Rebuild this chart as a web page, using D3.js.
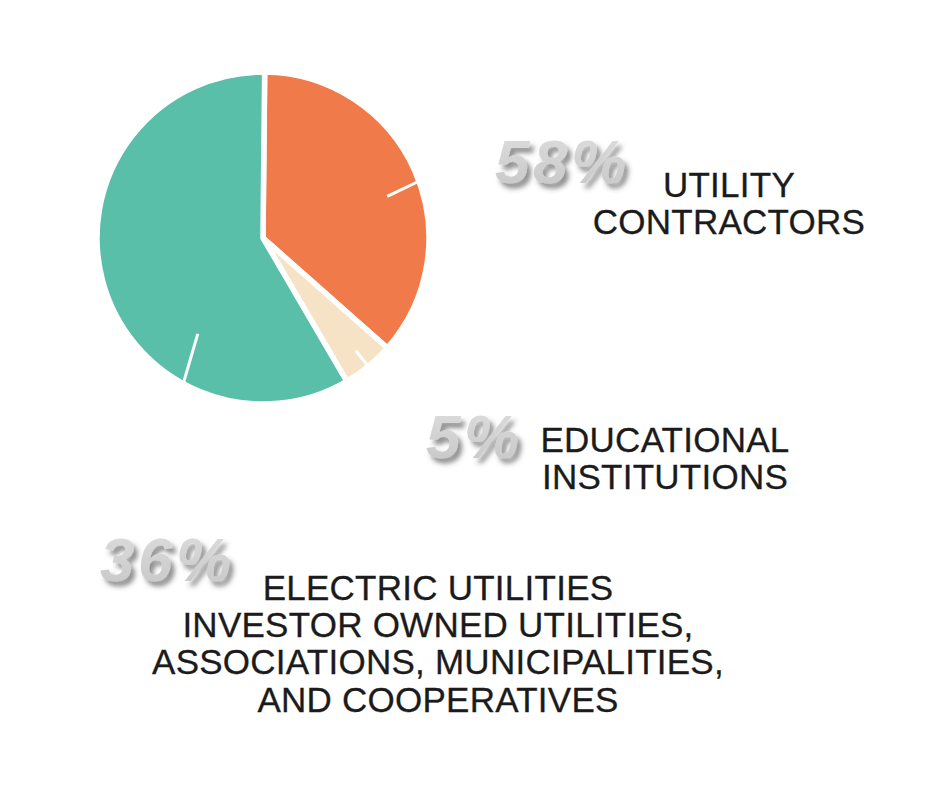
<!DOCTYPE html>
<html>
<head>
<meta charset="utf-8">
<script src="https://cdn.jsdelivr.net/npm/d3@7"></script>
<style>
  html, body { margin: 0; padding: 0; background: #ffffff; }
  svg { display: block; }
</style>
</head>
<body>
<svg id="chart" width="942" height="802"></svg>
<script>
// ---- data ----
const categories = ["Electric Utilities", "Educational Institutions", "Utility Contractors"];
const values = [36, 5, 58];
const colors = ["#f17a4b", "#f6e3c5", "#5abfa9"];
const percentLabels = ["36%", "5%", "58%"];
const labelLines = [
  ["ELECTRIC UTILITIES", "INVESTOR OWNED UTILITIES,", "ASSOCIATIONS, MUNICIPALITIES,", "AND COOPERATIVES"],
  ["EDUCATIONAL", "INSTITUTIONS"],
  ["UTILITY", "CONTRACTORS"]
];

// ---- layout config ----
const cx = 263, cy = 238, R = 166;
const tickCfg = [ // fraction within slice, inner/outer radius, tilt (deg)
  { f: 0.53, r0: 131, r1: 167, tilt: 1.5 },
  { f: 0.50, r0: 146, r1: 164, tilt: 0 },
  { f: 0.28, r0: 116, r1: 166, tilt: 5.5 }
];
const pctPos = [ {x: 100, y: 581}, {x: 426, y: 458}, {x: 495, y: 183} ];
const textBlocks = [ {cx: 438, y: 599.5}, {cx: 665, y: 451.5}, {cx: 729, y: 196.5} ];
const lineH = 37.4;

const svg = d3.select("#chart");
const defs = svg.append("defs");
const grad = defs.append("linearGradient").attr("id", "pctGrad")
  .attr("x1", "0").attr("y1", "0").attr("x2", "0").attr("y2", "1");
grad.append("stop").attr("offset", "0%").attr("stop-color", "#dedede");
grad.append("stop").attr("offset", "100%").attr("stop-color", "#c6c6c6");
const filt = defs.append("filter").attr("id", "shadow")
  .attr("x", "-20%").attr("y", "-20%").attr("width", "150%").attr("height", "160%");
filt.append("feDropShadow").attr("dx", 4).attr("dy", 5).attr("stdDeviation", 2.5)
  .attr("flood-color", "#444").attr("flood-opacity", 0.6);

const pie = d3.pie().sort(null).value(d => d).startAngle(0.01).endAngle(2 * Math.PI + 0.01);
const arcs = pie(values);
const arc = d3.arc().innerRadius(0).outerRadius(R);

const g = svg.append("g").attr("transform", `translate(${cx},${cy})`);
g.selectAll("path.slice").data(arcs).join("path")
  .attr("class", "slice")
  .attr("d", arc)
  .attr("fill", (d, i) => colors[i])
  .attr("stroke", "#ffffff")
  .attr("stroke-width", 5.5)
  .attr("stroke-linejoin", "miter");

// small white ticks inside slices
g.selectAll("line.tick").data(arcs).join("line")
  .attr("class", "tick")
  .each(function(d, i) {
    const c = tickCfg[i];
    const a = d.startAngle + (d.endAngle - d.startAngle) * c.f;
    const a0 = a + c.tilt * Math.PI / 180;
    d3.select(this)
      .attr("x1", c.r0 * Math.sin(a0)).attr("y1", -c.r0 * Math.cos(a0))
      .attr("x2", c.r1 * Math.sin(a)).attr("y2", -c.r1 * Math.cos(a));
  })
  .attr("stroke", "#ffffff")
  .attr("stroke-width", 3);

// big percentage labels
svg.selectAll("text.pct").data(percentLabels).join("text")
  .attr("class", "pct")
  .attr("x", (d, i) => pctPos[i].x)
  .attr("y", (d, i) => pctPos[i].y)
  .attr("font-family", "'Liberation Sans', Arial, sans-serif")
  .attr("font-weight", "bold")
  .attr("font-style", "italic")
  .attr("font-size", 62)
  .attr("letter-spacing", 3.5)
  .attr("fill", "url(#pctGrad)")
  .attr("filter", "url(#shadow)")
  .text(d => d);

// category labels
textBlocks.forEach((b, i) => {
  const t = svg.append("text")
    .attr("font-family", "'Liberation Sans', Arial, sans-serif")
    .attr("font-size", 35)
    .attr("letter-spacing", 0.25)
    .attr("fill", "#1b1b1b")
    .attr("stroke", "#1b1b1b")
    .attr("stroke-width", 0.3)
    .attr("text-anchor", "middle");
  labelLines[i].forEach((ln, j) => {
    t.append("tspan").attr("x", b.cx).attr("y", b.y + j * lineH).text(ln);
  });
});
</script>
</body>
</html>
